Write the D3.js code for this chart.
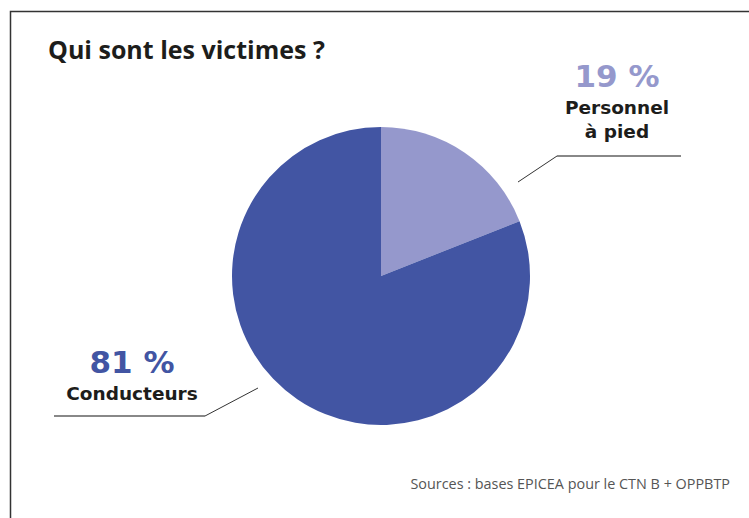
<!DOCTYPE html>
<html>
<head>
<meta charset="utf-8">
<script src="https://cdn.jsdelivr.net/npm/d3@7"></script>
<style>
  body { margin: 0; background: #fff; }
  svg { display: block; font-family: "Open Sans", "DejaVu Sans", sans-serif; }
</style>
</head>
<body>
<svg id="chart"></svg>
<script>
const categories = ["Personnel à pied", "Conducteurs"];
const values = [19, 81];
const pctLabels = ["19 %", "81 %"];
const nameLines = [["Personnel", "à pied"], ["Conducteurs"]];
const colors = ["#9598cc", "#4255a3"];

const W = 749, H = 518;
const cx = 381, cy = 276, radius = 149;

const svg = d3.select("#chart").attr("width", W).attr("height", H);

// cadre (haut + gauche seulement)
svg.append("path")
  .attr("d", `M10.5,${H} L10.5,11.5 L${W},11.5`)
  .attr("fill", "none")
  .attr("stroke", "#333")
  .attr("stroke-width", 1.5);

svg.append("text")
  .attr("x", 48).attr("y", 59)
  .attr("font-size", 25).attr("font-weight", 700)
  .attr("fill", "#1d1d1b")
  .text("Qui sont les victimes ?");

const pie = d3.pie().sort(null).value(d => d);
const arc = d3.arc().innerRadius(0).outerRadius(radius);

const g = svg.append("g").attr("transform", `translate(${cx},${cy})`);
g.selectAll("path")
  .data(pie(values))
  .enter()
  .append("path")
  .attr("d", arc)
  .attr("fill", (d, i) => colors[i]);

// étiquettes
const labelPos = [
  { x: 617, pctY: 87, nameY: 114, lineH: 24, line: [[518, 182], [557, 156], [681, 156]] },
  { x: 132, pctY: 373, nameY: 400, lineH: 24, line: [[258, 388], [205, 416], [54, 416]] }
];

labelPos.forEach((p, i) => {
  svg.append("text")
    .attr("x", p.x).attr("y", p.pctY)
    .attr("text-anchor", "middle")
    .attr("font-family", "DejaVu Sans")
    .attr("font-size", 31).attr("font-weight", 700)
    .attr("fill", colors[i])
    .text(pctLabels[i]);

  nameLines[i].forEach((t, j) => {
    svg.append("text")
      .attr("x", p.x).attr("y", p.nameY + j * p.lineH)
      .attr("text-anchor", "middle")
      .attr("font-family", "DejaVu Sans")
      .attr("font-size", 18.5).attr("font-weight", 700)
      .attr("fill", "#1d1d1b")
      .text(t);
  });

  svg.append("line")
    .attr("x1", p.line[0][0]).attr("y1", p.line[0][1])
    .attr("x2", p.line[1][0]).attr("y2", p.line[1][1])
    .attr("stroke", "#333").attr("stroke-width", 1);
  svg.append("line")
    .attr("x1", p.line[1][0]).attr("y1", p.line[1][1])
    .attr("x2", p.line[2][0]).attr("y2", p.line[2][1])
    .attr("stroke", "#888").attr("stroke-width", 2);
});

svg.append("text")
  .attr("x", 730).attr("y", 489)
  .attr("text-anchor", "end")
  .attr("font-size", 14.4).attr("font-weight", 400)
  .attr("fill", "#555")
  .text("Sources : bases EPICEA pour le CTN B + OPPBTP");
</script>
</body>
</html>
